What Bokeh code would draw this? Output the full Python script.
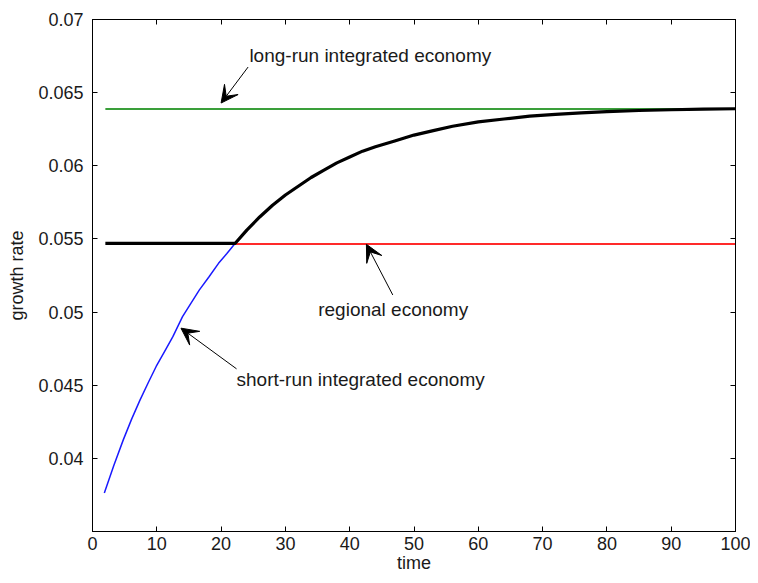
from bokeh.plotting import figure
from bokeh.models import (Range1d, FixedTicker, LinearAxis, Arrow, VeeHead, Label)
from bokeh.embed import file_html
from bokeh.resources import INLINE

# ---- data ----
time_black = [2, 5, 10, 15, 20, 22.2, 24, 26, 28, 30, 32, 34, 36, 38, 40, 42, 44,
              47, 50, 53, 56, 60, 64, 68, 72, 76, 80, 85, 90, 95, 100]
growth_black = [0.0547, 0.0547, 0.0547, 0.0547, 0.0547, 0.0547, 0.0556, 0.0565,
                0.0573, 0.0580, 0.0586, 0.0592, 0.0597, 0.0602, 0.0606, 0.0610,
                0.0613, 0.0617, 0.0621, 0.0624, 0.0627, 0.0630, 0.0632, 0.0634,
                0.06352, 0.06362, 0.0637, 0.06378, 0.06383, 0.06387, 0.0639]

time_blue = [1.84, 3.3, 4.8, 6.1, 7.4, 8.7, 9.9, 11.2, 12.5, 14.0, 15.3, 16.6,
             18.1, 19.6, 20.9, 22.2]
growth_blue = [0.03764, 0.0395, 0.04128, 0.0427, 0.0440, 0.0452, 0.04628, 0.0473,
               0.04832, 0.04969, 0.0506, 0.0515, 0.0524, 0.05333, 0.0540, 0.0547]

time_green = [2, 100]
growth_green = [0.06388, 0.06388]

time_red = [22.2, 100]
growth_red = [0.05465, 0.05465]

x_ticks = [0, 10, 20, 30, 40, 50, 60, 70, 80, 90, 100]
y_ticks = [0.04, 0.045, 0.05, 0.055, 0.06, 0.065, 0.07]
y_tick_labels = {0.04: "0.04", 0.045: "0.045", 0.05: "0.05", 0.055: "0.055",
                 0.06: "0.06", 0.065: "0.065", 0.07: "0.07"}

# annotation texts and anchor positions (data units)
ann_long = ("long-run integrated economy", 24.4, 0.06754)
ann_regional = ("regional economy", 35.1, 0.05018)
ann_short = ("short-run integrated economy", 22.4, 0.04540)
arrow_long = (24.2, 0.06675, 20.0, 0.06429)
arrow_regional = (46.7, 0.05117, 42.6, 0.05463)
arrow_short = (22.4, 0.04612, 13.76, 0.0489)

FONT = "Liberation Sans"
FS = "18px"
FS_ANN = "19px"
TXT = "#1a1a1a"

p = figure(width=750, height=575, output_backend="svg", toolbar_location=None,
           x_range=Range1d(0, 100), y_range=Range1d(0.035, 0.07),
           min_border_left=92, min_border_right=15, min_border_top=19,
           min_border_bottom=43)
p.grid.visible = False
p.outline_line_color = "black"
p.outline_line_width = 1
p.background_fill_color = "white"
p.border_fill_color = "white"

p.line(time_green, growth_green, line_color="#3a9f3a", line_width=2)
p.line(time_red, growth_red, line_color="#ff2a2a", line_width=2)
p.line(time_blue, growth_blue, line_color="#1a1aff", line_width=1.5)
p.line(time_black, growth_black, line_color="black", line_width=3.2,
       line_join="round")

for ax in (p.xaxis[0], p.yaxis[0]):
    ax.major_tick_in = 5
    ax.major_tick_out = 0
    ax.minor_tick_in = 0
    ax.minor_tick_out = 0
    ax.axis_line_color = "black"
    ax.major_tick_line_color = "black"
    ax.major_label_text_font = FONT
    ax.major_label_text_font_size = FS
    ax.major_label_text_color = TXT
    ax.axis_label_text_font = FONT
    ax.axis_label_text_font_size = FS
    ax.axis_label_text_font_style = "normal"
    ax.axis_label_text_color = TXT

p.xaxis[0].ticker = FixedTicker(ticks=x_ticks)
p.yaxis[0].ticker = FixedTicker(ticks=y_ticks)
p.yaxis[0].major_label_overrides = y_tick_labels
p.xaxis[0].axis_label = "time"
p.yaxis[0].axis_label = "growth rate"
p.xaxis[0].major_label_standoff = 5
p.yaxis[0].major_label_standoff = 9
p.xaxis[0].axis_label_standoff = 0
p.yaxis[0].axis_label_standoff = 8

top = LinearAxis(ticker=FixedTicker(ticks=x_ticks),
                 major_label_overrides={t: "" for t in x_ticks},
                 major_tick_in=5, major_tick_out=0, minor_tick_in=0, minor_tick_out=0,
                 major_label_standoff=0)
right = LinearAxis(ticker=FixedTicker(ticks=y_ticks),
                   major_label_overrides={t: "" for t in y_ticks},
                   major_tick_in=5, major_tick_out=0, minor_tick_in=0, minor_tick_out=0,
                   major_label_standoff=0)
p.add_layout(top, "above")
p.add_layout(right, "right")

for (txt, x, y) in (ann_long, ann_regional, ann_short):
    p.add_layout(Label(x=x, y=y, text=txt, text_font=FONT, text_font_size=FS_ANN,
                       text_color=TXT, text_baseline="middle", text_align="left"))

for (xs, ys, xe, ye) in (arrow_long, arrow_regional, arrow_short):
    p.add_layout(Arrow(x_start=xs, y_start=ys, x_end=xe, y_end=ye,
                       line_color="black", line_width=1,
                       end=VeeHead(size=17, fill_color="black", line_color="black",
                                   line_width=1)))

open("out.html", "w").write(file_html(p, INLINE))
